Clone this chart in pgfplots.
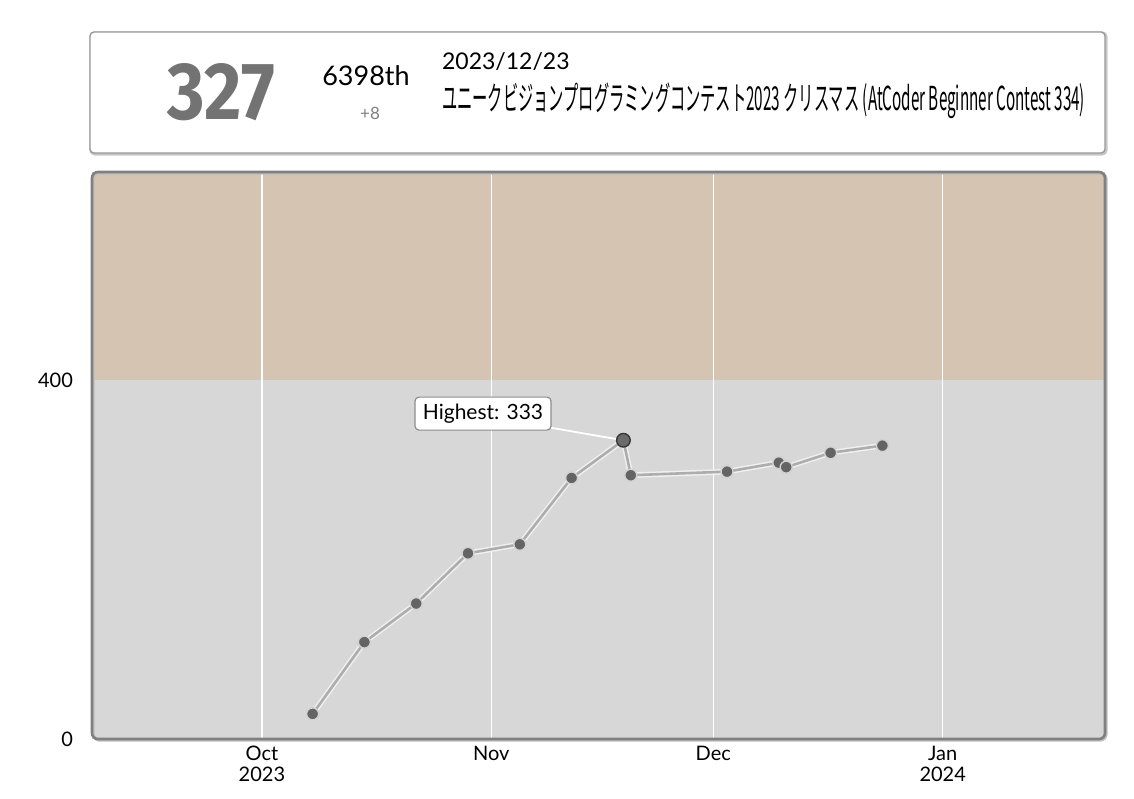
\documentclass[border=0pt]{standalone}
\usepackage{fontspec}
\usepackage{graphicx}
\usepackage{pgfplots}
\pgfplotsset{compat=1.18}
\setmainfont{Lato}
\newfontfamily\jp{Noto Sans CJK JP}
\newfontfamily\fira{Fira Sans}
\definecolor{bgbrown}{RGB}{213,196,178}
\definecolor{bggray}{RGB}{215,215,215}
\definecolor{frame}{RGB}{128,128,128}
\definecolor{pt}{RGB}{100,100,100}
\begin{document}
\begin{tikzpicture}[x=0.5pt,y=0.5pt]
\path (0,0) rectangle (1134,798);
% header box
\draw[rounded corners=2pt, draw=black!22, line width=1.6pt] (91,765) rectangle (1106,644);
\draw[rounded corners=2pt, draw=black!40, line width=0.7pt, fill=white] (90,766) rectangle (1105,645);
\node[inner sep=0pt, text=black!55] at (221.5,705.5) {\resizebox{53.5pt}{28pt}{\fira\bfseries 327}};
\node[inner sep=0pt, anchor=base] at (366,712.3) {\fontsize{13.5}{14}\selectfont 6398th};
\node[inner sep=0pt, anchor=base, text=black!50] at (370,678) {\fontsize{8.5}{9}\selectfont +8};
\node[inner sep=0pt, anchor=base west] at (441.7,728) {\fontsize{11.5}{12}\selectfont 2023/12/23};
\node[inner sep=0pt, anchor=base west] at (441.7,687) {\resizebox{321.5pt}{\height}{\jp\fontsize{16.5}{17}\selectfont ユニークビジョンプログラミングコンテスト2023 クリスマス (AtCoder Beginner Contest 334)}};
\coordinate (axsw) at (92,59);
\begin{axis}[
  name=ax,
  at={(axsw)}, anchor=south west,
  scale only axis, width=506.5pt, height=283.5pt,
  xmin=-22.96, xmax=113.93, ymin=0, ymax=632,
  xtick={0,31,61,92},
  xticklabels={Oct\\2023, Nov, Dec, Jan\\2024},
  ytick={0,400},
  major tick length=0pt,
  axis line style={draw=none},
  tick label style={font=\fontsize{10}{10.5}\selectfont},
  xticklabel style={align=center},
  yticklabel style={xshift=-6pt},
  /pgf/number format/assume math mode=true,
  clip=true,
]
\addplot[fill=bgbrown, draw=none] coordinates {(-23,632) (114,632)} \closedcycle;
\addplot[fill=bggray, draw=none] coordinates {(-23,400) (114,400)} \closedcycle;
% month grid lines
\addplot[white, line width=0.6pt] coordinates {(0,0) (0,632)};
\addplot[white, line width=0.6pt] coordinates {(31,0) (31,632)};
\addplot[white, line width=0.6pt] coordinates {(61,0) (61,632)};
\addplot[white, line width=0.6pt] coordinates {(92,0) (92,632)};
% connector for highest label
\addplot[white, line width=0.9pt] coordinates {(39.0,347) (48.85,333)};
\addplot[color=black!6, line width=2.8pt] coordinates {
(6.85,28) (13.85,108) (20.85,151) (27.85,207) (34.85,217) (41.85,291) (48.85,333)
(49.85,294) (62.85,298) (69.85,308) (70.85,303) (76.85,319) (83.85,327)};
\addplot[color=black!32, line width=1.3pt, mark=*, mark size=3pt,
  mark options={fill=pt, draw=black!18, line width=0.7pt}] coordinates {
(6.85,28) (13.85,108) (20.85,151) (27.85,207) (34.85,217) (41.85,291) (48.85,333)
(49.85,294) (62.85,298) (69.85,308) (70.85,303) (76.85,319) (83.85,327)};
\addplot[draw=none, mark=*, mark size=3.4pt,
  mark options={fill=black!58, draw=black!78, line width=0.7pt}] coordinates {(48.85,333)};
\node[fill=white, draw=black!45, line width=0.6pt, rounded corners=2pt,
  minimum width=68pt, minimum height=16.5pt, inner sep=2pt,
  font=\fontsize{10.5}{11}\selectfont] at (axis cs:29.88,362.7) {Highest: 333};
\end{axis}
\draw[rounded corners=3pt, draw=black!25, line width=1.4pt] ([shift={(0.6pt,-0.6pt)}]ax.south west) rectangle ([shift={(0.6pt,-0.6pt)}]ax.north east);
\draw[rounded corners=3pt, draw=frame, line width=1.3pt] (ax.south west) rectangle (ax.north east);
\end{tikzpicture}
\end{document}
